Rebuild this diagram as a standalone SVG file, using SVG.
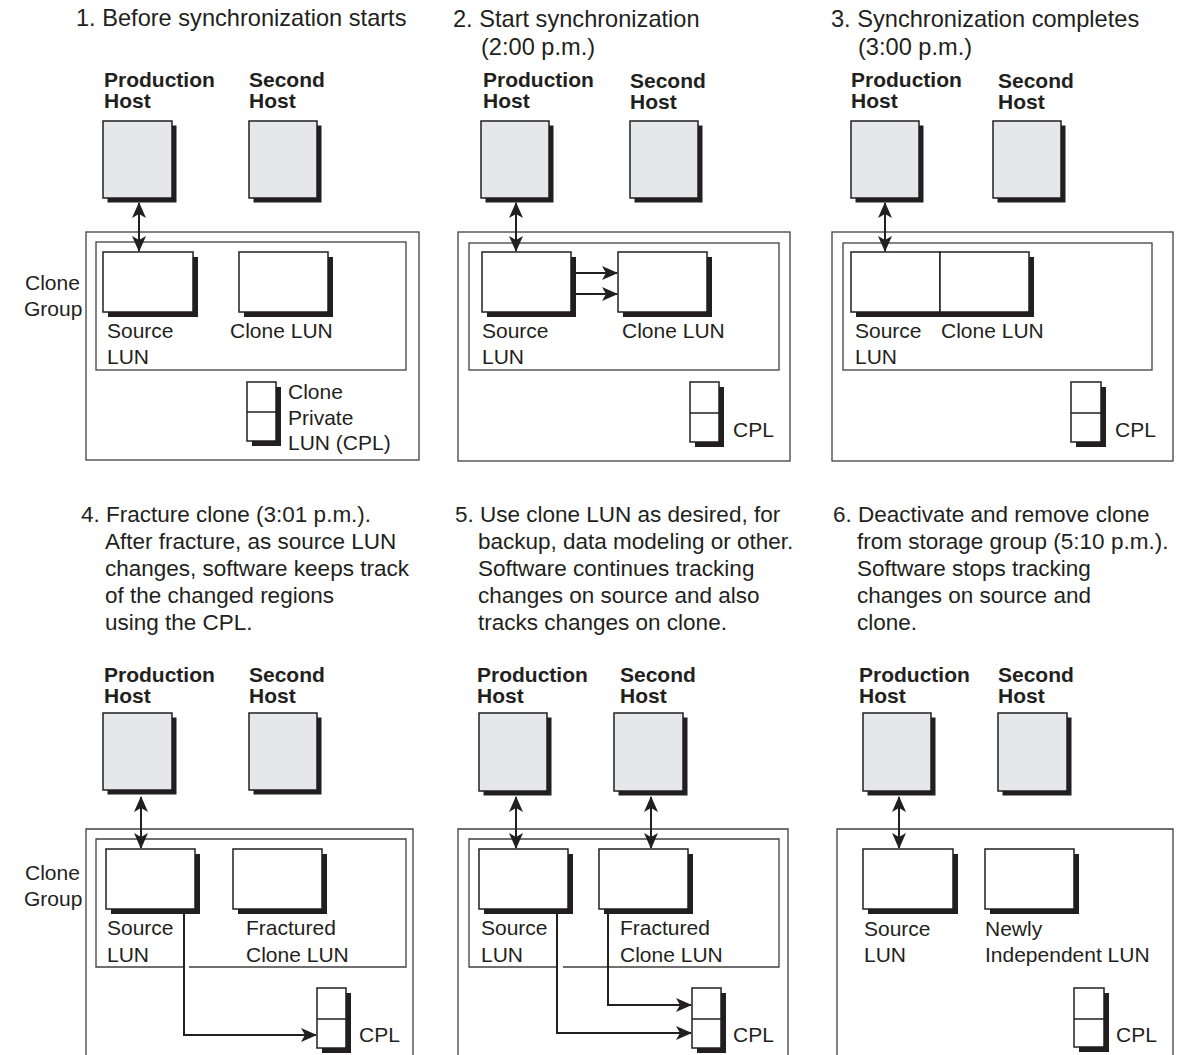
<svg xmlns="http://www.w3.org/2000/svg" width="1196" height="1055" viewBox="0 0 1196 1055">
<style>
.t{font-family:"Liberation Sans",Arial,Helvetica,sans-serif;font-size:21px;fill:#231f20}
.ti{font-size:22.5px}
.ti1{font-size:23.6px}
.b{font-weight:bold}
.host{fill:#e6e7e8;stroke:#231f20;stroke-width:1.5}
.lun{fill:#fff;stroke:#231f20;stroke-width:1.5}
.sh{fill:#231f20}
.frame{fill:none;stroke:#404040;stroke-width:1.3}
.conn{fill:none;stroke:#231f20;stroke-width:2}
.bi{marker-start:url(#ah);marker-end:url(#ah)}
.one{marker-end:url(#ah)}
</style>
<defs>
<marker id="ah" viewBox="0 0 16 14" refX="15" refY="7" markerWidth="16" markerHeight="14" markerUnits="userSpaceOnUse" orient="auto-start-reverse">
<path d="M0,0 L16,7 L0,14 L4,7 Z" fill="#231f20"/>
</marker>
</defs>
<rect width="1196" height="1055" fill="#fff"/>

<!-- ============ PANEL 1 ============ -->
<g id="p1-title"><text class="t ti1" x="76" y="26">1. Before synchronization starts</text></g>
<g id="p1-clonegroup-label"><text class="t" x="25" y="290">Clone</text><text class="t" x="24" y="316">Group</text></g>
<g id="p1-prod-host">
<text class="t b" x="104" y="87">Production</text><text class="t b" x="104" y="108">Host</text>
<rect class="sh" x="107.5" y="125.5" width="69" height="77"/><rect class="host" x="103" y="121" width="69" height="77"/>
</g>
<g id="p1-second-host">
<text class="t b" x="249" y="87">Second</text><text class="t b" x="249" y="108">Host</text>
<rect class="sh" x="253.5" y="125.5" width="68" height="77"/><rect class="host" x="249" y="121" width="68" height="77"/>
</g>
<g id="p1-clone-group"><rect class="frame" x="86" y="232" width="333" height="228"/></g>
<g id="p1-inner"><rect class="frame" x="96" y="242" width="310" height="128"/></g>
<g id="p1-source">
<rect class="sh" x="108" y="257" width="90" height="60"/><rect class="lun" x="103" y="252" width="90" height="60"/>
<text class="t" x="107" y="338">Source</text><text class="t" x="107" y="364">LUN</text>
</g>
<g id="p1-clone">
<rect class="sh" x="244" y="257" width="89" height="60"/><rect class="lun" x="239" y="252" width="89" height="60"/>
<text class="t" x="230" y="338">Clone LUN</text>
</g>
<g id="p1-cpl">
<rect class="sh" x="252" y="387" width="29" height="59"/><rect class="lun" x="247" y="382" width="29" height="59"/>
<line x1="247" y1="412" x2="276" y2="412" stroke="#231f20" stroke-width="1.5"/>
<text class="t" x="288" y="399">Clone</text><text class="t" x="288" y="425">Private</text><text class="t" x="288" y="450">LUN (CPL)</text>
</g>

<!-- ============ PANEL 2 ============ -->
<g id="p2-title"><text class="t ti1" x="453" y="27">2. Start synchronization</text><text class="t ti1" x="481" y="55">(2:00 p.m.)</text></g>
<g id="p2-prod-host">
<text class="t b" x="483" y="87">Production</text><text class="t b" x="483" y="108">Host</text>
<rect class="sh" x="485.5" y="125.5" width="68" height="77"/><rect class="host" x="481" y="121" width="68" height="77"/>
</g>
<g id="p2-second-host">
<text class="t b" x="630" y="88">Second</text><text class="t b" x="630" y="109">Host</text>
<rect class="sh" x="634.5" y="125.5" width="68" height="77"/><rect class="host" x="630" y="121" width="68" height="77"/>
</g>
<g id="p2-clone-group"><rect class="frame" x="458" y="232" width="332" height="229"/></g>
<g id="p2-inner"><rect class="frame" x="469" y="243" width="310" height="127"/></g>
<g id="p2-source">
<rect class="sh" x="487" y="257" width="89" height="60"/><rect class="lun" x="482" y="252" width="89" height="60"/>
<text class="t" x="482" y="338">Source</text><text class="t" x="482" y="364">LUN</text>
</g>
<g id="p2-clone">
<rect class="sh" x="623" y="257" width="89" height="60"/><rect class="lun" x="618" y="252" width="89" height="60"/>
<text class="t" x="622" y="338">Clone LUN</text>
</g>
<g id="p2-cpl">
<rect class="sh" x="695" y="387" width="29" height="60"/><rect class="lun" x="690" y="382" width="29" height="60"/>
<line x1="690" y1="413" x2="719" y2="413" stroke="#231f20" stroke-width="1.5"/>
<text class="t" x="733" y="437">CPL</text>
</g>

<!-- ============ PANEL 3 ============ -->
<g id="p3-title"><text class="t ti1" x="831" y="27">3. Synchronization completes</text><text class="t ti1" x="858" y="55">(3:00 p.m.)</text></g>
<g id="p3-prod-host">
<text class="t b" x="851" y="87">Production</text><text class="t b" x="851" y="108">Host</text>
<rect class="sh" x="855.5" y="125.5" width="68" height="77"/><rect class="host" x="851" y="121" width="68" height="77"/>
</g>
<g id="p3-second-host">
<text class="t b" x="998" y="88">Second</text><text class="t b" x="998" y="109">Host</text>
<rect class="sh" x="997.5" y="125.5" width="68" height="77"/><rect class="host" x="993" y="121" width="68" height="77"/>
</g>
<g id="p3-clone-group"><rect class="frame" x="832" y="232" width="341" height="229"/></g>
<g id="p3-inner"><rect class="frame" x="843" y="243" width="309" height="127"/></g>
<g id="p3-luns">
<rect class="sh" x="856" y="257" width="178" height="60"/>
<rect class="lun" x="851" y="252" width="89" height="60"/><rect class="lun" x="940" y="252" width="89" height="60"/>
<text class="t" x="855" y="338">Source</text><text class="t" x="855" y="364">LUN</text>
<text class="t" x="941" y="338">Clone LUN</text>
</g>
<g id="p3-cpl">
<rect class="sh" x="1076" y="387" width="30" height="60"/><rect class="lun" x="1071" y="382" width="30" height="60"/>
<line x1="1071" y1="413" x2="1101" y2="413" stroke="#231f20" stroke-width="1.5"/>
<text class="t" x="1115" y="437">CPL</text>
</g>

<!-- ============ PANEL 4 ============ -->
<g id="p4-title">
<text class="t ti" x="81" y="522">4. Fracture clone (3:01 p.m.).</text>
<text class="t ti" x="105" y="549">After fracture, as source LUN</text>
<text class="t ti" x="105" y="576">changes, software keeps track</text>
<text class="t ti" x="105" y="603">of the changed regions</text>
<text class="t ti" x="105" y="630">using the CPL.</text>
</g>
<g id="p4-clonegroup-label"><text class="t" x="25" y="880">Clone</text><text class="t" x="24" y="906">Group</text></g>
<g id="p4-prod-host">
<text class="t b" x="104" y="682">Production</text><text class="t b" x="104" y="703">Host</text>
<rect class="sh" x="107.5" y="717.5" width="69" height="77"/><rect class="host" x="103" y="713" width="69" height="77"/>
</g>
<g id="p4-second-host">
<text class="t b" x="249" y="682">Second</text><text class="t b" x="249" y="703">Host</text>
<rect class="sh" x="253.5" y="717.5" width="68" height="77"/><rect class="host" x="249" y="713" width="68" height="77"/>
</g>
<g id="p4-clone-group"><path class="frame" d="M86,1060 V829 H413 V1060"/></g>
<g id="p4-inner"><path class="frame" d="M184,967 H96 V839 H406 V967 H189"/></g>
<g id="p4-source">
<rect class="sh" x="111" y="854" width="89" height="60"/><rect class="lun" x="106" y="849" width="89" height="60"/>
<text class="t" x="107" y="935">Source</text><text class="t" x="107" y="962">LUN</text>
</g>
<g id="p4-fractured">
<rect class="sh" x="238" y="854" width="89" height="60"/><rect class="lun" x="233" y="849" width="89" height="60"/>
<text class="t" x="246" y="935">Fractured</text><text class="t" x="246" y="962">Clone LUN</text>
</g>
<g id="p4-cpl">
<rect class="sh" x="322" y="993" width="29" height="60"/><rect class="lun" x="317" y="988" width="29" height="60"/>
<line x1="317" y1="1019" x2="346" y2="1019" stroke="#231f20" stroke-width="1.5"/>
<text class="t" x="359" y="1042">CPL</text>
</g>

<!-- ============ PANEL 5 ============ -->
<g id="p5-title">
<text class="t ti" x="455" y="522">5. Use clone LUN as desired, for</text>
<text class="t ti" x="478" y="549">backup, data modeling or other.</text>
<text class="t ti" x="478" y="576">Software continues tracking</text>
<text class="t ti" x="478" y="603">changes on source and also</text>
<text class="t ti" x="478" y="630">tracks changes on clone.</text>
</g>
<g id="p5-prod-host">
<text class="t b" x="477" y="682">Production</text><text class="t b" x="477" y="703">Host</text>
<rect class="sh" x="483.5" y="717.5" width="68" height="78"/><rect class="host" x="479" y="713" width="68" height="78"/>
</g>
<g id="p5-second-host">
<text class="t b" x="620" y="682">Second</text><text class="t b" x="620" y="703">Host</text>
<rect class="sh" x="618.5" y="717.5" width="69" height="78"/><rect class="host" x="614" y="713" width="69" height="78"/>
</g>
<g id="p5-clone-group"><path class="frame" d="M458,1060 V829 H788 V1060"/></g>
<g id="p5-inner"><path class="frame" d="M557,967 H469 V839 H779 V967 H563"/></g>
<g id="p5-source">
<rect class="sh" x="484" y="854" width="89" height="60"/><rect class="lun" x="479" y="849" width="89" height="60"/>
<text class="t" x="481" y="935">Source</text><text class="t" x="481" y="962">LUN</text>
</g>
<g id="p5-fractured">
<rect class="sh" x="604" y="854" width="89" height="60"/><rect class="lun" x="599" y="849" width="89" height="60"/>
<text class="t" x="620" y="935">Fractured</text><text class="t" x="620" y="962">Clone LUN</text>
</g>
<g id="p5-cpl">
<rect class="sh" x="697" y="993" width="29" height="60"/><rect class="lun" x="692" y="988" width="29" height="60"/>
<line x1="692" y1="1019" x2="721" y2="1019" stroke="#231f20" stroke-width="1.5"/>
<text class="t" x="733" y="1042">CPL</text>
</g>

<!-- ============ PANEL 6 ============ -->
<g id="p6-title">
<text class="t ti" x="833" y="522">6. Deactivate and remove clone</text>
<text class="t ti" x="857" y="549">from storage group (5:10 p.m.).</text>
<text class="t ti" x="857" y="576">Software stops tracking</text>
<text class="t ti" x="857" y="603">changes on source and</text>
<text class="t ti" x="857" y="630">clone.</text>
</g>
<g id="p6-prod-host">
<text class="t b" x="859" y="682">Production</text><text class="t b" x="859" y="703">Host</text>
<rect class="sh" x="867.5" y="717.5" width="68" height="78"/><rect class="host" x="863" y="713" width="68" height="78"/>
</g>
<g id="p6-second-host">
<text class="t b" x="998" y="682">Second</text><text class="t b" x="998" y="703">Host</text>
<rect class="sh" x="1002.5" y="717.5" width="69" height="78"/><rect class="host" x="998" y="713" width="69" height="78"/>
</g>
<g id="p6-storage"><path class="frame" d="M837,1060 V829 H1173 V1060"/></g>
<g id="p6-source">
<rect class="sh" x="868" y="854" width="90" height="60"/><rect class="lun" x="863" y="849" width="90" height="60"/>
<text class="t" x="864" y="936">Source</text><text class="t" x="864" y="962">LUN</text>
</g>
<g id="p6-newly">
<rect class="sh" x="990" y="854" width="89" height="60"/><rect class="lun" x="985" y="849" width="89" height="60"/>
<text class="t" x="985" y="936">Newly</text><text class="t" x="985" y="962">Independent LUN</text>
</g>
<g id="p6-cpl">
<rect class="sh" x="1079" y="993" width="30" height="59"/><rect class="lun" x="1074" y="988" width="30" height="59"/>
<line x1="1074" y1="1019" x2="1104" y2="1019" stroke="#231f20" stroke-width="1.5"/>
<text class="t" x="1116" y="1042">CPL</text>
</g>

<!-- ============ CONNECTORS ============ -->
<g id="connectors">
<line class="conn bi" x1="139" y1="203" x2="139" y2="251"/>
<line class="conn bi" x1="516" y1="203" x2="516" y2="251"/>
<line class="conn one" x1="576" y1="273" x2="617" y2="273"/>
<line class="conn one" x1="576" y1="294" x2="617" y2="294"/>
<line class="conn bi" x1="885" y1="203" x2="885" y2="251"/>
<line class="conn bi" x1="141" y1="797" x2="141" y2="848"/>
<path class="conn one" d="M184,914 V1035 H316"/>
<line class="conn bi" x1="516" y1="797" x2="516" y2="848"/>
<line class="conn bi" x1="651" y1="797" x2="651" y2="848"/>
<path class="conn one" d="M608,914 V1005 H691"/>
<path class="conn one" d="M557,914 V1033 H691"/>
<line class="conn bi" x1="899" y1="797" x2="899" y2="848"/>
</g>
</svg>
